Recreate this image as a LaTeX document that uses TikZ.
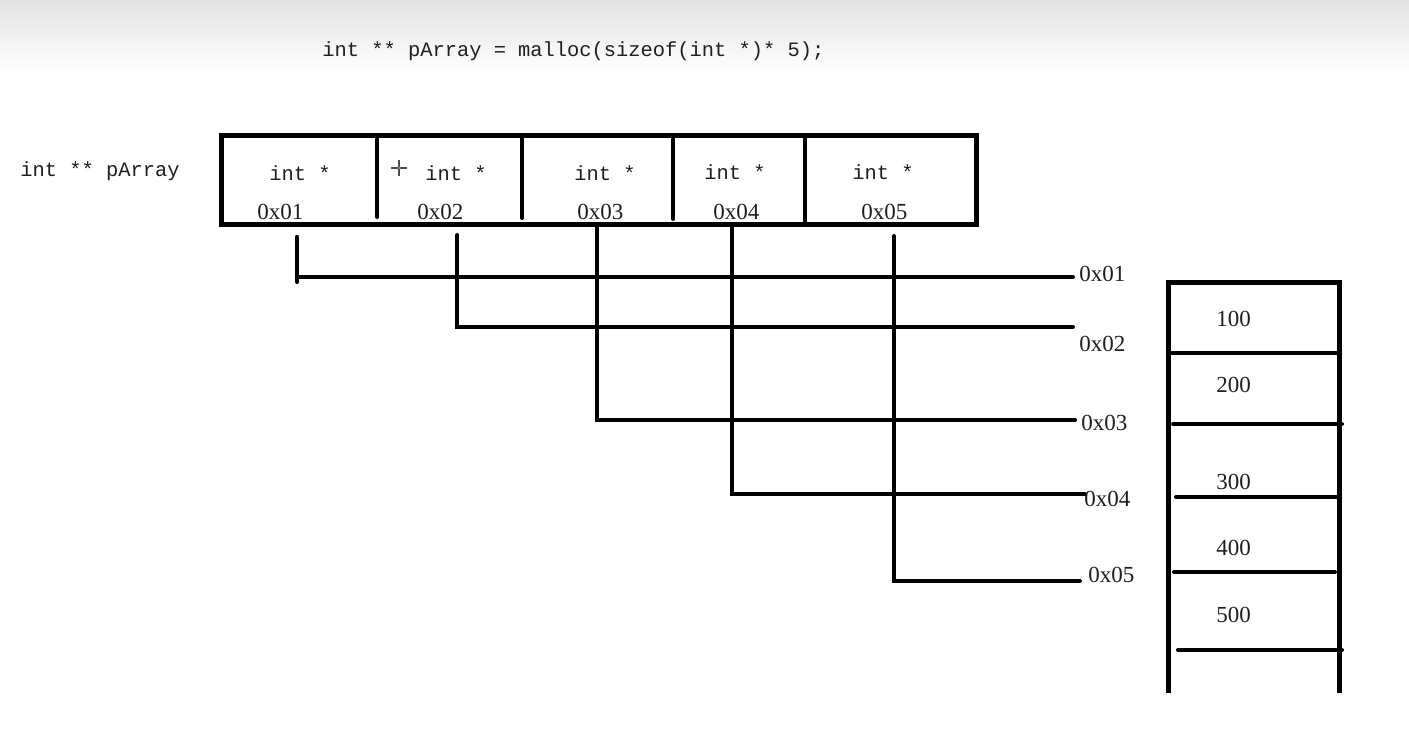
\documentclass[tikz,border=0pt]{standalone}
\usepackage{fontspec}
\setmainfont{Liberation Serif}
\newfontfamily\codefont{Liberation Mono}
\begin{document}
\begin{tikzpicture}[x=0.5pt,y=-0.5pt,
  code/.style={font=\codefont\fontsize{10.2}{12}\selectfont, inner sep=0pt, anchor=base west, text=black!88},
  addr/.style={font=\fontsize{11.5}{13}\selectfont, inner sep=0pt, anchor=base west, text=black!88},
  frame/.style={line width=2.5pt},
  divider/.style={line width=2pt, line cap=round},
  conn/.style={line width=2pt, line cap=round},
  slot/.style={line width=2pt, line cap=round}]
% background
\useasboundingbox (0,0) rectangle (1409,732);
\fill[white] (0,0) rectangle (1409,732);
\shade[top color=black!11, bottom color=white] (0,0) rectangle (1409,74);
% title and label
\node[code] (title) at (322,57) {int ** pArray = malloc(sizeof(int *)* 5);};
\node[code] (plabel) at (20,177) {int ** pArray};
% the array of pointers
\draw[frame] (221,135.5) rectangle (976,225);
\coordinate (d1t) at (377,139); \coordinate (d1b) at (377,217);
\coordinate (d2t) at (522,139); \coordinate (d2b) at (522,218);
\coordinate (d3t) at (673,139); \coordinate (d3b) at (673,219);
\coordinate (d4t) at (805,137); \coordinate (d4b) at (805,224);
\draw[divider] (d1t) -- (d1b);
\draw[divider] (d2t) -- (d2b);
\draw[divider] (d3t) -- (d3b);
\draw[divider] (d4t) -- (d4b);
\node[code] (t1) at (269,181) {int *};
\node[code] (t2) at (425,181) {int *};
\node[code] (t3) at (574,181) {int *};
\node[code] (t4) at (704,180) {int *};
\node[code] (t5) at (852,180) {int *};
\node[addr] (a1) at (257,220) {0x01};
\node[addr] (a2) at (417,220) {0x02};
\node[addr] (a3) at (577,220) {0x03};
\node[addr] (a4) at (713,220) {0x04};
\node[addr] (a5) at (861,220) {0x05};
% cursor glyph
\draw[line width=0.6pt, black!70] (391,168) -- (397.5,168) (400.5,168) -- (407,168) (399,160) -- (399,166.5) (399,169.5) -- (399,176);
\draw[line width=0.5pt, black!70] (399,168) circle (1.6);
% connectors
\coordinate (s1) at (297,237); \coordinate (e1) at (1073,277);
\coordinate (s2) at (457,235); \coordinate (e2) at (1073,327);
\coordinate (s3) at (597,227); \coordinate (e3) at (1075,420);
\coordinate (s4) at (732,227); \coordinate (e4) at (1085,494);
\coordinate (s5) at (894,236); \coordinate (e5) at (1080,581);
\draw[conn] (s1) -- (297,282);
\draw[conn] (s1) |- (e1);
\draw[conn] (s2) |- (e2);
\draw[conn] (s3) |- (e3);
\draw[conn] (s4) |- (e4);
\draw[conn] (s5) |- (e5);
\node[addr] (r1) at (1079,282) {0x01};
\node[addr] (r2) at (1079,352) {0x02};
\node[addr] (r3) at (1081,431) {0x03};
\node[addr] (r4) at (1084,507) {0x04};
\node[addr] (r5) at (1088,582) {0x05};
% memory stack
\coordinate (ml) at (1168,693); \coordinate (mtl) at (1168,283);
\coordinate (mtr) at (1339,283); \coordinate (mr) at (1339,693);
\draw[line width=2.5pt] (ml) -- (mtl) -- (mtr) -- (mr);
\draw[slot] (1168,353) -- (1339,353);
\draw[slot] (1173,424) -- (1342,424);
\draw[slot] (1176,497) -- (1337,497);
\draw[slot] (1174,572) -- (1335,572);
\draw[slot] (1178,650) -- (1342,650);
\node[addr] (m1) at (1216,327) {100};
\node[addr] (m2) at (1216,393) {200};
\node[addr] (m3) at (1216,490) {300};
\node[addr] (m4) at (1216,556) {400};
\node[addr] (m5) at (1216,623) {500};
\end{tikzpicture}
\end{document}
